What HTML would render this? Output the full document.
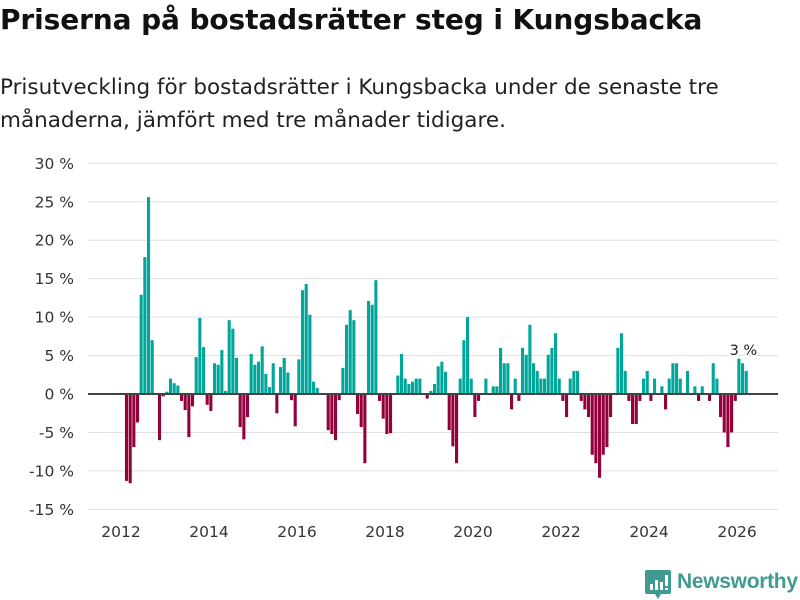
<!DOCTYPE html>
<html><head><meta charset="utf-8">
<style>
body{margin:0;width:800px;height:600px;background:#fff;font-family:"DejaVu Sans","Liberation Sans",sans-serif;overflow:hidden;position:relative}
#title{position:absolute;left:0;top:3px;font-size:28px;font-weight:bold;color:#111;margin:0;letter-spacing:-0.1px;white-space:nowrap}
#subtitle{position:absolute;left:0;top:71px;font-size:21.5px;line-height:33px;color:#222;width:790px;white-space:nowrap}
svg{position:absolute;left:0;top:0}
</style></head><body>
<h1 id="title">Priserna på bostadsrätter steg i Kungsbacka</h1>
<div id="subtitle">Prisutveckling för bostadsrätter i Kungsbacka under de senaste tre<br>månaderna, jämfört med tre månader tidigare.</div>
<svg id="chart" width="800" height="600"></svg>
<script>
const yTicks=[30,25,20,15,10,5,0,-5,-10,-15];
const xTickYears=[2012,2014,2016,2018,2020,2022,2024,2026];
const startMonth=1; // Feb 2012 (months since Jan 2012)
const values=[-11.3,-11.6,-6.9,-3.7,12.9,17.8,25.6,7.0,0,-6.0,-0.3,0.3,2.0,1.4,1.1,-0.9,-2.1,-5.6,-1.6,4.8,9.9,6.1,-1.4,-2.2,4.0,3.8,5.7,0.4,9.6,8.5,4.7,-4.3,-5.9,-3.0,5.2,3.8,4.2,6.2,2.6,0.9,4.0,-2.5,3.5,4.7,2.8,-0.8,-4.2,4.5,13.5,14.3,10.3,1.6,0.8,0,0,-4.7,-5.2,-6.0,-0.8,3.4,9.0,10.9,9.6,-2.6,-4.3,-9.0,12.1,11.6,14.8,-0.9,-3.2,-5.2,-5.1,0,2.4,5.2,2.0,1.3,1.6,2.0,2.0,0,-0.6,0.4,1.3,3.6,4.2,2.9,-4.7,-6.8,-9.0,2.0,7.0,10.0,2.0,-3.0,-0.9,0,2.0,0,1.0,1.0,6.0,4.0,4.0,-2.0,2.0,-0.9,6.0,5.1,9.0,4.0,3.0,2.0,2.0,5.1,6.0,7.9,2.0,-0.9,-3.0,2.0,3.0,3.0,-0.9,-2.0,-3.0,-7.9,-9.0,-10.9,-7.9,-6.9,-3.0,0,6.0,7.9,3.0,-0.9,-3.9,-3.9,-0.9,2.0,3.0,-0.9,2.0,0,1.0,-2.0,2.0,4.0,4.0,2.0,0,3.0,0,1.0,-0.9,1.0,0,-0.9,4.0,2.0,-3.0,-5.0,-6.9,-5.0,-0.9,4.6,4.0,3.0];
const lastLabel="3 %";

const NS="http://www.w3.org/2000/svg";
const svg=document.getElementById('chart');
const y=v=>394-v*7.69;
const x=m=>121+m*3.667;
function mk(t,a){const e=document.createElementNS(NS,t);for(const k in a)e.setAttribute(k,a[k]);svg.appendChild(e);return e;}
yTicks.forEach(t=>{
  const g=mk('line',{x1:88,x2:778,y1:y(t),y2:y(t),stroke:'#e0e0e0','stroke-width':1});
  
  
  const l=mk('text',{x:74,y:y(t)+5.5,'text-anchor':'end','font-size':15.5,fill:'#333'});
  l.textContent=t+' %';
  
  
});
values.forEach((v,i)=>{
  const m=startMonth+i;
  if(v===0)return;
  const r=mk('rect',{x:x(m)+0.3,width:3.1,y:Math.min(y(v),y(0)),height:Math.abs(y(v)-y(0)),fill:v>0?'#00a69a':'#93003a'});
  
  
});
const base=mk('line',{x1:88,x2:778,y1:y(0),y2:y(0),stroke:'#444','stroke-width':2});


xTickYears.forEach(yr=>{
  const m=(yr-2012)*12;
  const l=mk('text',{x:x(m),y:537,'text-anchor':'middle','font-size':15.5,fill:'#333'});
  l.textContent=yr;
  
  
});
const lm=startMonth+values.length-1;
const ann=mk('text',{x:x(lm)-1,y:355,'text-anchor':'middle','font-size':14.5,fill:'#222',stroke:'#fff','stroke-width':3,'paint-order':'stroke'});
ann.textContent=lastLabel;


</script>
<div style="position:absolute;left:645px;top:570px;height:30px">
<svg width="26" height="30" style="position:absolute;left:0;top:0">
<path d="M0 2 Q0 0 2 0 H24 Q26 0 26 2 V22 Q26 24 24 24 H16 L13 29 L10 24 H2 Q0 24 0 22 Z" fill="#3f9a90"/>
<rect x="5" y="14" width="3" height="6" fill="#fff"/><rect x="10" y="10" width="3" height="10" fill="#fff"/><rect x="15" y="12" width="3" height="8" fill="#fff"/><rect x="20" y="5" width="3" height="11" fill="#fff"/><rect x="20" y="18" width="3" height="2" fill="#fff"/>
</svg>
<span style="position:absolute;left:32px;top:0;font-weight:bold;color:#3f9a90;white-space:nowrap;font-family:'Liberation Sans',sans-serif;font-size:21px;letter-spacing:-0.3px">Newsworthy</span>
</div>
</body></html>
